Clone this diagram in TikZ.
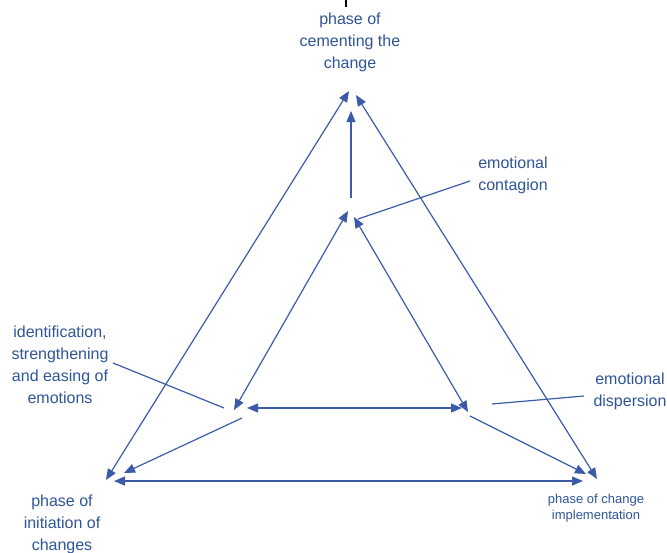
\documentclass[tikz,border=0pt]{standalone}
\usepackage{fontspec}
\setmainfont{Liberation Sans}
\usetikzlibrary{arrows.meta}
\definecolor{txtblue}{RGB}{47,84,152}
\definecolor{lineblue}{RGB}{58,92,168}
\tikzset{
  link/.style={draw=lineblue, line width=1.2pt},
  twoway/.style={link, {Triangle[length=11pt,width=9pt]}-{Triangle[length=11pt,width=9pt]}},
  oneway/.style={link, -{Triangle[length=11pt,width=9pt]}},
  phaselabel/.style={text=txtblue, font=\fontsize{16}{22}\selectfont, align=center, inner sep=0pt},
  smalllabel/.style={text=txtblue, font=\fontsize{13}{16}\selectfont, align=center, inner sep=0pt},
}
\begin{document}
\begin{tikzpicture}[x=1pt,y=-1pt]
\useasboundingbox (0,0) rectangle (667,552);

% labels
\node (topPhase) [phaselabel] at (350,42) {phase of\\cementing the\\change};
\node (leftPhase) [phaselabel] at (62,524) {phase of\\initiation of\\changes};
\node (rightPhase) [smalllabel] at (596,508) {phase of change\\implementation};
\node (contagion) [phaselabel] at (513,175) {emotional\\contagion};
\node (easing) [phaselabel] at (60,365) {identification,\\strengthening\\and easing of\\emotions};
\node (dispersion) [phaselabel] at (630,391) {emotional\\dispersion};

% end points of the connectors
\coordinate (oLtop) at (349,91);
\coordinate (oLbot) at (106,480);
\coordinate (oRtop) at (356,95);
\coordinate (oRbot) at (597,479);
\coordinate (hBl) at (114,481);
\coordinate (hBr) at (583,481);
\coordinate (vBot) at (351,198);
\coordinate (vTop) at (351,111);
\coordinate (iLtop) at (348,211);
\coordinate (iLbot) at (234,410);
\coordinate (iRtop) at (354,217);
\coordinate (iRbot) at (468,412);
\coordinate (iHl) at (247,408);
\coordinate (iHr) at (462,408);
\coordinate (dLfrom) at (242,418);
\coordinate (dLto) at (124,473);
\coordinate (dRfrom) at (470,416);
\coordinate (dRto) at (586,474);
\coordinate (contA) at (470,181);
\coordinate (contB) at (358,219);
\coordinate (easeA) at (113,363);
\coordinate (easeB) at (224,408);
\coordinate (dispA) at (584,396);
\coordinate (dispB) at (492,404);
\coordinate (tickA) at (346,0);
\coordinate (tickB) at (346,7);

% outer triangle
\draw [twoway] (oLbot) -- (oLtop);
\draw [twoway] (oRtop) -- (oRbot);
\draw [twoway] (hBl) -- (hBr);
\draw [oneway] (vBot) -- (vTop);

% inner triangle
\draw [twoway] (iLbot) -- (iLtop);
\draw [twoway] (iRtop) -- (iRbot);
\draw [twoway] (iHl) -- (iHr);
\draw [oneway] (dLfrom) -- (dLto);
\draw [oneway] (dRfrom) -- (dRto);

% label lines
\draw [link] (contA) -- (contB);
\draw [link] (easeA) -- (easeB);
\draw [link] (dispA) -- (dispB);
\draw [line width=1.5pt] (tickA) -- (tickB);
\end{tikzpicture}
\end{document}
